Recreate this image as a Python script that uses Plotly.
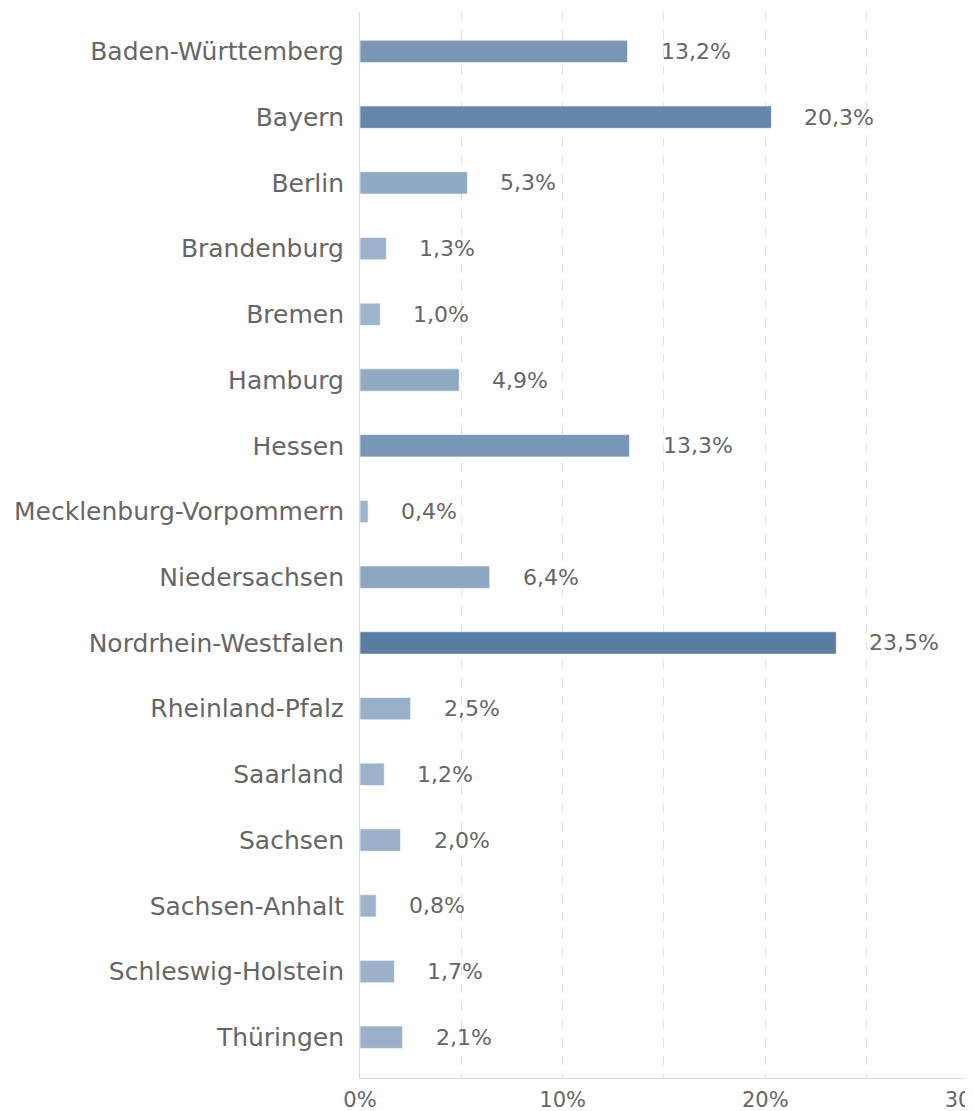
import plotly.graph_objects as go

states = ["Baden-Württemberg", "Bayern", "Berlin", "Brandenburg", "Bremen", "Hamburg",
          "Hessen", "Mecklenburg-Vorpommern", "Niedersachsen", "Nordrhein-Westfalen",
          "Rheinland-Pfalz", "Saarland", "Sachsen", "Sachsen-Anhalt",
          "Schleswig-Holstein", "Thüringen"]
shares = [13.2, 20.3, 5.3, 1.3, 1.0, 4.9, 13.3, 0.4, 6.4, 23.5, 2.5, 1.2, 2.0, 0.8, 1.7, 2.1]
x_ticks = [0, 10, 20, 30]
x_tick_labels = ["0%", "10%", "20%", "30%"]

FONT = "DejaVu Sans"
TXT = "#666666"

fig = go.Figure()
fig.add_trace(go.Bar(
    y=states, x=shares, orientation="h", width=0.34,
    marker=dict(color=shares, colorscale=[[0, "#a0b6cd"], [1, "#5a7ea3"]],
                cmin=0, cmax=max(shares),
                line=dict(color="rgba(255,255,255,0.6)", width=1)),
    hoverinfo="skip",
))

for s, v in zip(states, shares):
    fig.add_annotation(x=v, y=s, text=f"{v:.1f}%".replace(".", ","),
                       xanchor="left", yanchor="middle", xshift=31, showarrow=False,
                       font=dict(family=FONT, size=22, color=TXT))

fig.update_layout(
    width=965, height=1103,
    margin=dict(l=352, r=3, t=4, b=33, autoexpand=False),
    paper_bgcolor="white", plot_bgcolor="white",
    showlegend=False,
    font=dict(family=FONT, color=TXT),
    xaxis=dict(range=[0, 30.1], tickvals=x_ticks, ticktext=x_tick_labels, automargin=False,
               ticklabeloverflow="allow",
               showgrid=True, gridcolor="#e0e0e0", griddash="dash", gridwidth=1,
               minor=dict(dtick=5, showgrid=True, gridcolor="#e0e0e0", griddash="dash", gridwidth=1),
               zeroline=False, showline=True, linecolor="#e0e0e0", linewidth=1,
               tickfont=dict(family=FONT, size=21, color=TXT), ticks="", ticklabelstandoff=3),
    yaxis=dict(type="category", categoryorder="array", categoryarray=states, automargin=False,
               range=[15.62, -0.60], showgrid=False, zeroline=False,
               showline=True, linecolor="#d8d8d8", linewidth=1,
               tickfont=dict(family=FONT, size=25, color=TXT), ticks="", ticklabelstandoff=10),
)

fig.write_html("out.html")
